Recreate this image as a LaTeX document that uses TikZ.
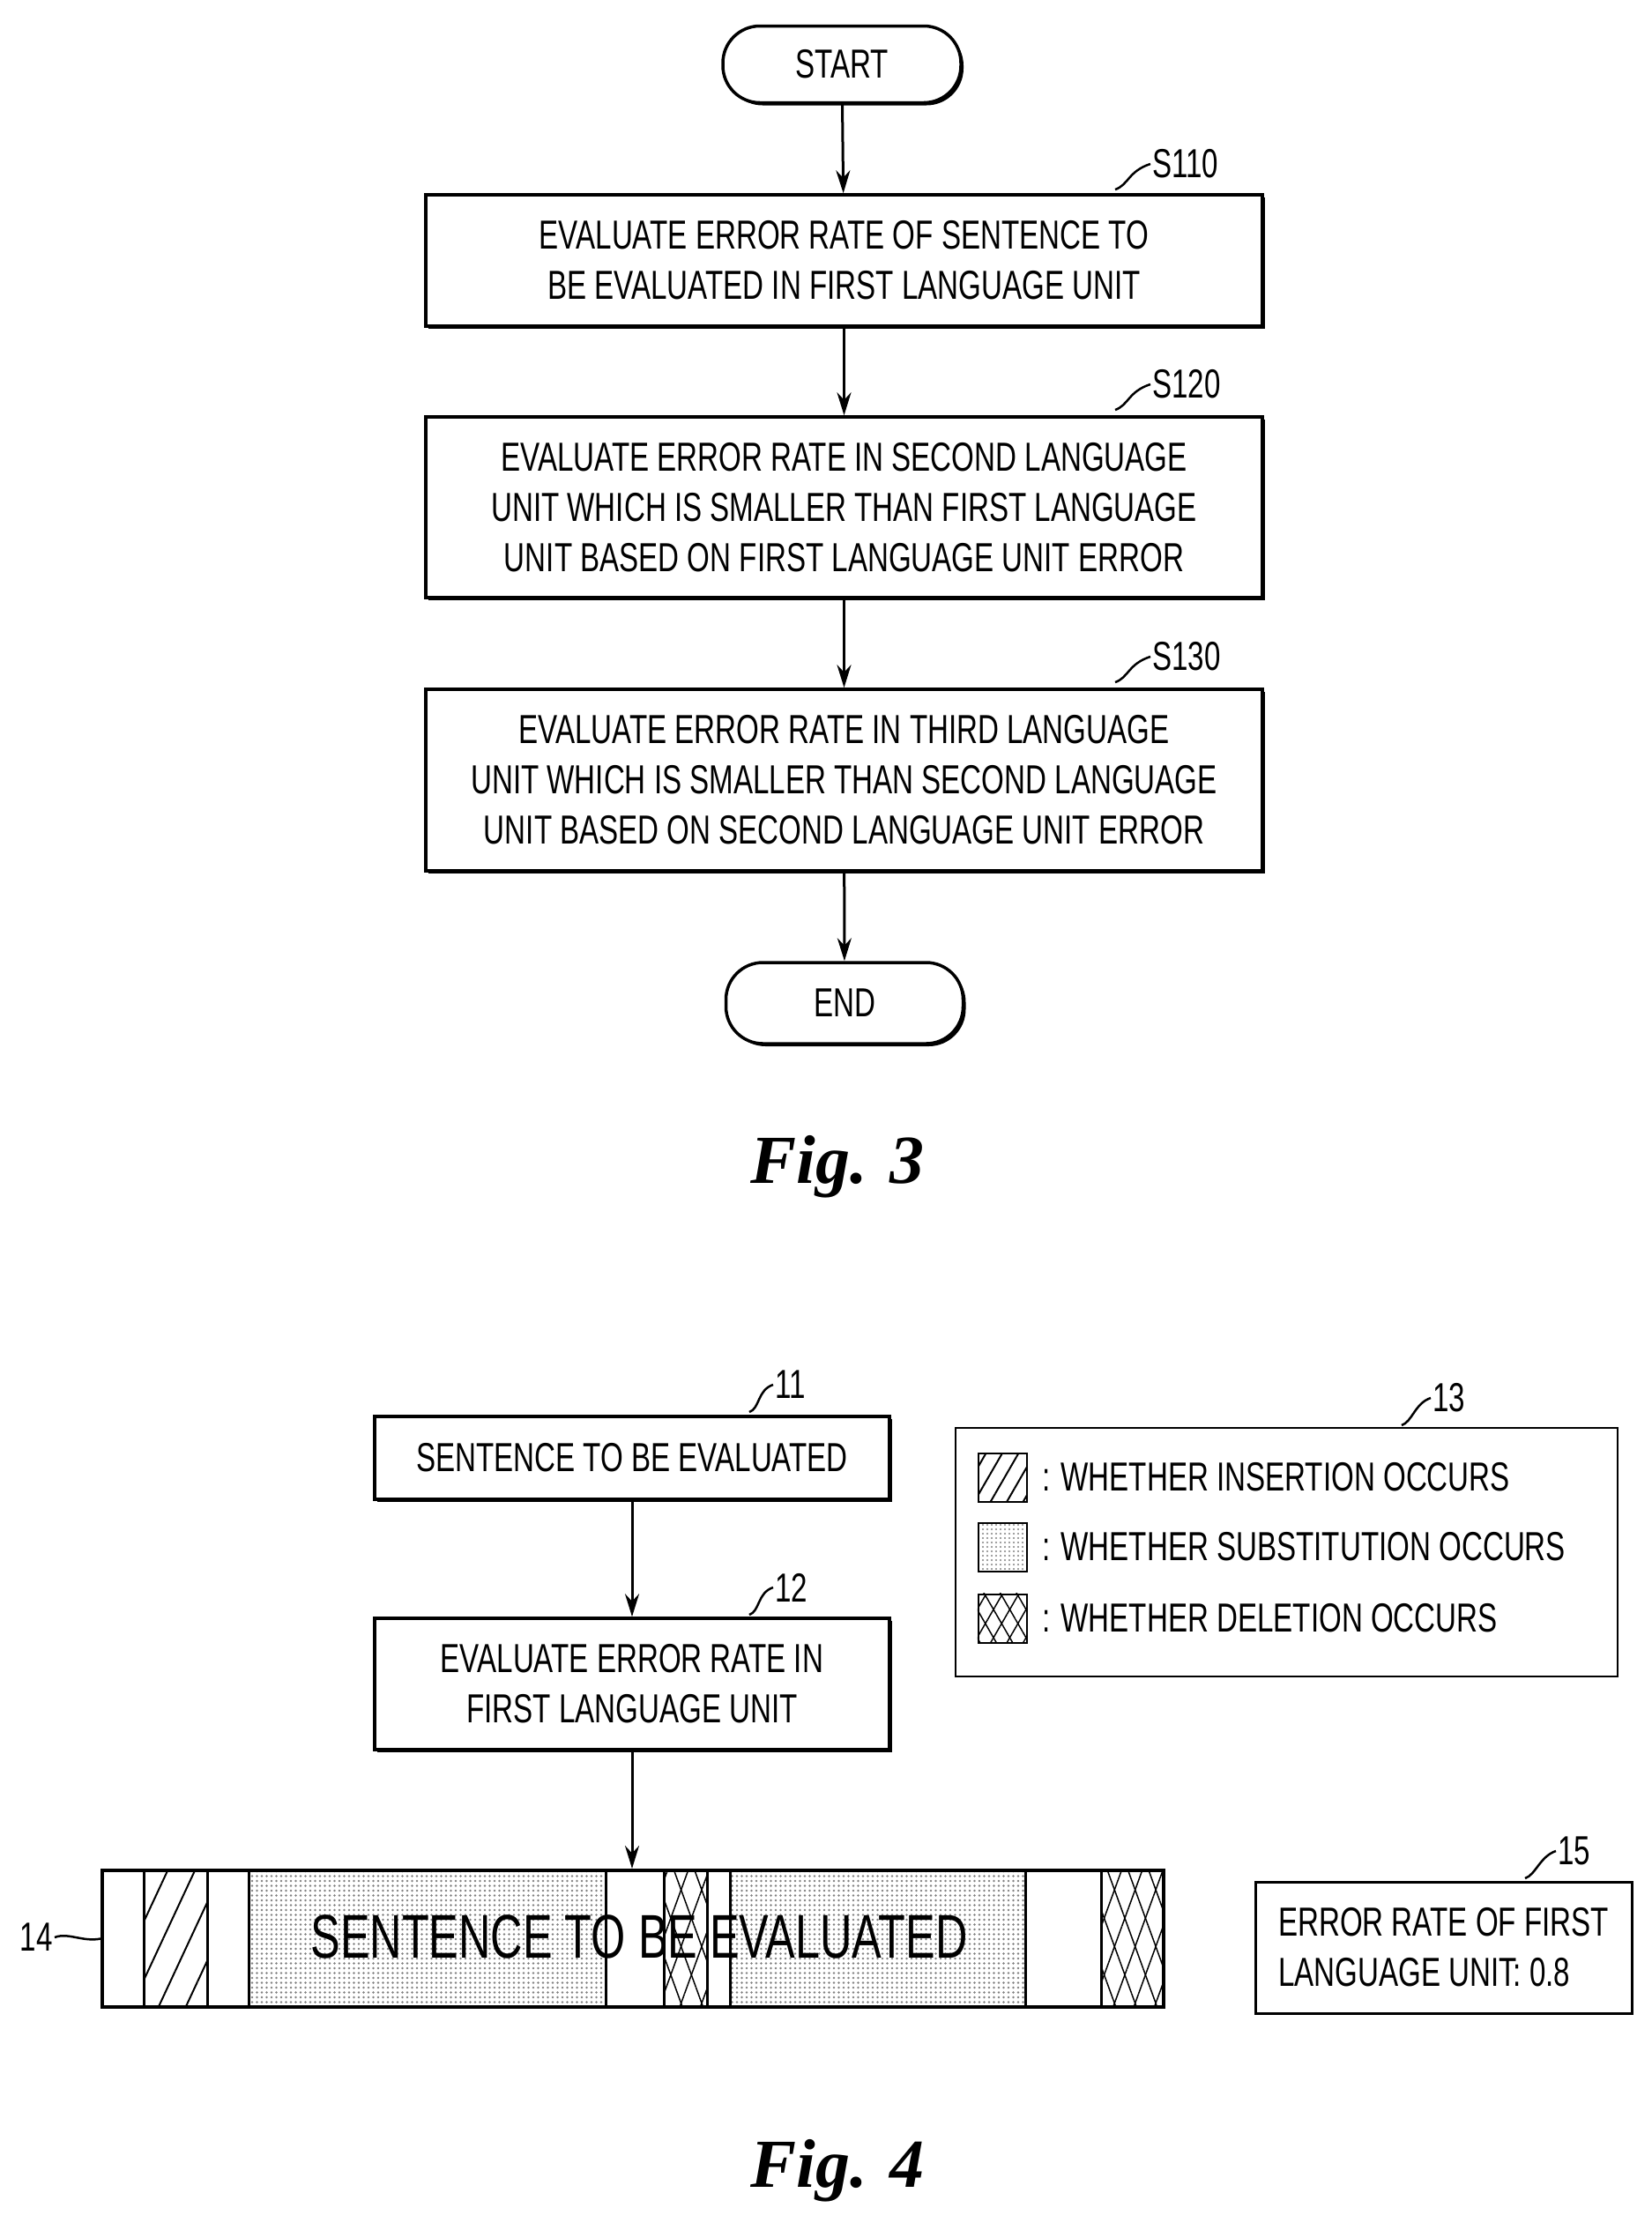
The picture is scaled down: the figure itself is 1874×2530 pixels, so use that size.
\documentclass[tikz,border=0pt]{standalone}
\usepackage{fontspec}
\setmainfont{Liberation Sans}[FakeStretch=0.72]
\newfontfamily\figfont{Liberation Serif}
\usetikzlibrary{arrows.meta,patterns.meta,shadows}
\begin{document}
\begin{tikzpicture}[x=1pt,y=-1pt,
  box/.style={draw,line width=3.5pt,fill=white,align=center,inner sep=0pt,
    font=\fontsize{46}{57}\selectfont,drop shadow={shadow xshift=3pt,shadow yshift=-3pt,fill=black,opacity=1}},
  term/.style={draw,line width=3.5pt,rounded corners=42pt,fill=white,inner sep=0pt,font=\fontsize{46}{57}\selectfont,
    drop shadow={shadow xshift=3pt,shadow yshift=-3pt,fill=black,opacity=1}},
  arr/.style={line width=3pt,-{Stealth[length=26pt,width=16pt]}},
  lead/.style={line width=2.5pt},
  lab/.style={font=\fontsize{46}{50}\selectfont,inner sep=2pt},
  fig/.style={font=\figfont\bfseries\itshape\fontsize{78}{80}\selectfont},
  seg/.style={draw,line width=3pt}]
\useasboundingbox (0,0) rectangle (1874,2530);
% Fig 3
\node[term,minimum width=270pt,minimum height=87pt] (start) at (955,73) {START};
\node[box,minimum width=949pt,minimum height=149pt] (s110) at (957.5,295.5) {EVALUATE ERROR RATE OF SENTENCE TO\\BE EVALUATED IN FIRST LANGUAGE UNIT};
\node[box,minimum width=949pt,minimum height=205pt] (s120) at (957.5,575.5) {EVALUATE ERROR RATE IN SECOND LANGUAGE\\UNIT WHICH IS SMALLER THAN FIRST LANGUAGE\\UNIT BASED ON FIRST LANGUAGE UNIT ERROR};
\node[box,minimum width=949pt,minimum height=206pt] (s130) at (957.5,885) {EVALUATE ERROR RATE IN THIRD LANGUAGE\\UNIT WHICH IS SMALLER THAN SECOND LANGUAGE\\UNIT BASED ON SECOND LANGUAGE UNIT ERROR};
\node[term,minimum width=269pt,minimum height=92pt] (end) at (958,1138) {END};
\draw[arr] (start) -- (s110);
\draw[arr] (s110) -- (s120);
\draw[arr] (s120) -- (s130);
\draw[arr] (s130) -- (end);
\node[lab,anchor=west] (l110) at (1305,186) {S110};
\node[lab,anchor=west] (l120) at (1305,436) {S120};
\node[lab,anchor=west] (l130) at (1305,745) {S130};
\coordinate (c110) at (1265,215);
\coordinate (c120) at (1265,465);
\coordinate (c130) at (1265,774);
\foreach \a in {110,120,130}{\draw[lead] (c\a) .. controls ++(15,-5) and ++(-25,8) .. (l\a.west);}
\node[fig] (f3) at (950,1324) {Fig. 3};
% Fig 4
\node[box,minimum width=584pt,minimum height=94pt] (b11) at (717,1654) {SENTENCE TO BE EVALUATED};
\node[box,minimum width=584pt,minimum height=149pt] (b12) at (717,1910.5) {EVALUATE ERROR RATE IN\\FIRST LANGUAGE UNIT};
\node[lab,anchor=west] (l11) at (877,1571) {11};
\node[lab,anchor=west] (l12) at (877,1801) {12};
\coordinate (c11) at (850,1602);
\coordinate (c12) at (850,1832);
\draw[lead] (c11) .. controls ++(12,-4) and ++(-18,6) .. (l11.west);
\draw[lead] (c12) .. controls ++(12,-4) and ++(-18,6) .. (l12.west);
\draw[arr] (b11) -- (b12);
% legend
\node[draw,line width=2pt,minimum width=751pt,minimum height=282pt] (leg) at (1459.5,1761) {};
\node[lab,anchor=west] (l13) at (1623,1586) {13};
\coordinate (c13) at (1590,1617);
\draw[lead] (c13) .. controls ++(12,-4) and ++(-18,6) .. (l13.west);
\node[draw,line width=2pt,minimum size=55pt,inner sep=0pt,pattern={Lines[angle=60,distance=16pt,line width=2pt]}] (q1) at (1137,1676) {};
\node[draw,line width=2pt,minimum size=55pt,inner sep=0pt,pattern={Dots[radius=1.2pt,distance=5pt]},pattern color=gray] (q2) at (1137,1755) {};
\node[draw,line width=2pt,minimum size=55pt,inner sep=0pt,pattern={Lines[angle=60,distance=16pt,line width=1.5pt]}] (q3) at (1137,1836) {};
\fill[pattern={Lines[angle=-60,distance=16pt,line width=1.5pt]}] (q3.south west) rectangle (q3.north east);
\node[lab,anchor=west,font=\fontsize{46}{50}\selectfont] (t1) at (1180,1676) {: WHETHER INSERTION OCCURS};
\node[lab,anchor=west,font=\fontsize{46}{50}\selectfont] (t2) at (1180,1755) {: WHETHER SUBSTITUTION OCCURS};
\node[lab,anchor=west,font=\fontsize{46}{50}\selectfont] (t3) at (1180,1836) {: WHETHER DELETION OCCURS};
% bar
\fill[pattern={Lines[angle=65,distance=28pt,line width=2pt]}] (163,2122) rectangle (235,2277);
\fill[pattern={Dots[radius=1.3pt,distance=5.5pt]},pattern color=gray] (282,2122) rectangle (687,2277);
\fill[pattern={Dots[radius=1.3pt,distance=5.5pt]},pattern color=gray] (828,2122) rectangle (1163,2277);
\foreach \l/\r in {753/802,1249/1320}{
  \fill[pattern={Lines[angle=70,distance=22pt,line width=1.5pt]}] (\l,2122) rectangle (\r,2277);
  \fill[pattern={Lines[angle=-70,distance=22pt,line width=1.5pt]}] (\l,2122) rectangle (\r,2277);}
\foreach \x in {163,235,282,687,753,802,828,1163,1249}{\draw[line width=3pt] (\x,2122) -- (\x,2277);}
\node[draw,line width=4pt,minimum width=1204pt,minimum height=155pt,inner sep=0pt] (bar) at (718,2199.5) {};
\node[font=\fontsize{70}{72}\selectfont] (bt) at (725,2197) {SENTENCE TO BE EVALUATED};
\draw[arr] (b12) -- (b12|-bar.north);
\node[lab,anchor=east] (l14) at (62,2198) {14};
\draw[lead] (l14.east) .. controls ++(15,-6) and ++(-20,4) .. (bar.west);
\node[draw,line width=3pt,minimum width=427pt,minimum height=149pt,align=left,font=\fontsize{46}{57}\selectfont,inner sep=0pt] (b15) at (1637.5,2209.5) {ERROR RATE OF FIRST\\LANGUAGE UNIT: 0.8};
\node[lab,anchor=west] (l15) at (1765,2100) {15};
\coordinate (c15) at (1730,2131);
\draw[lead] (c15) .. controls ++(12,-4) and ++(-18,6) .. (l15.west);
\node[fig] (f4) at (950,2463) {Fig. 4};
\end{tikzpicture}
\end{document}
